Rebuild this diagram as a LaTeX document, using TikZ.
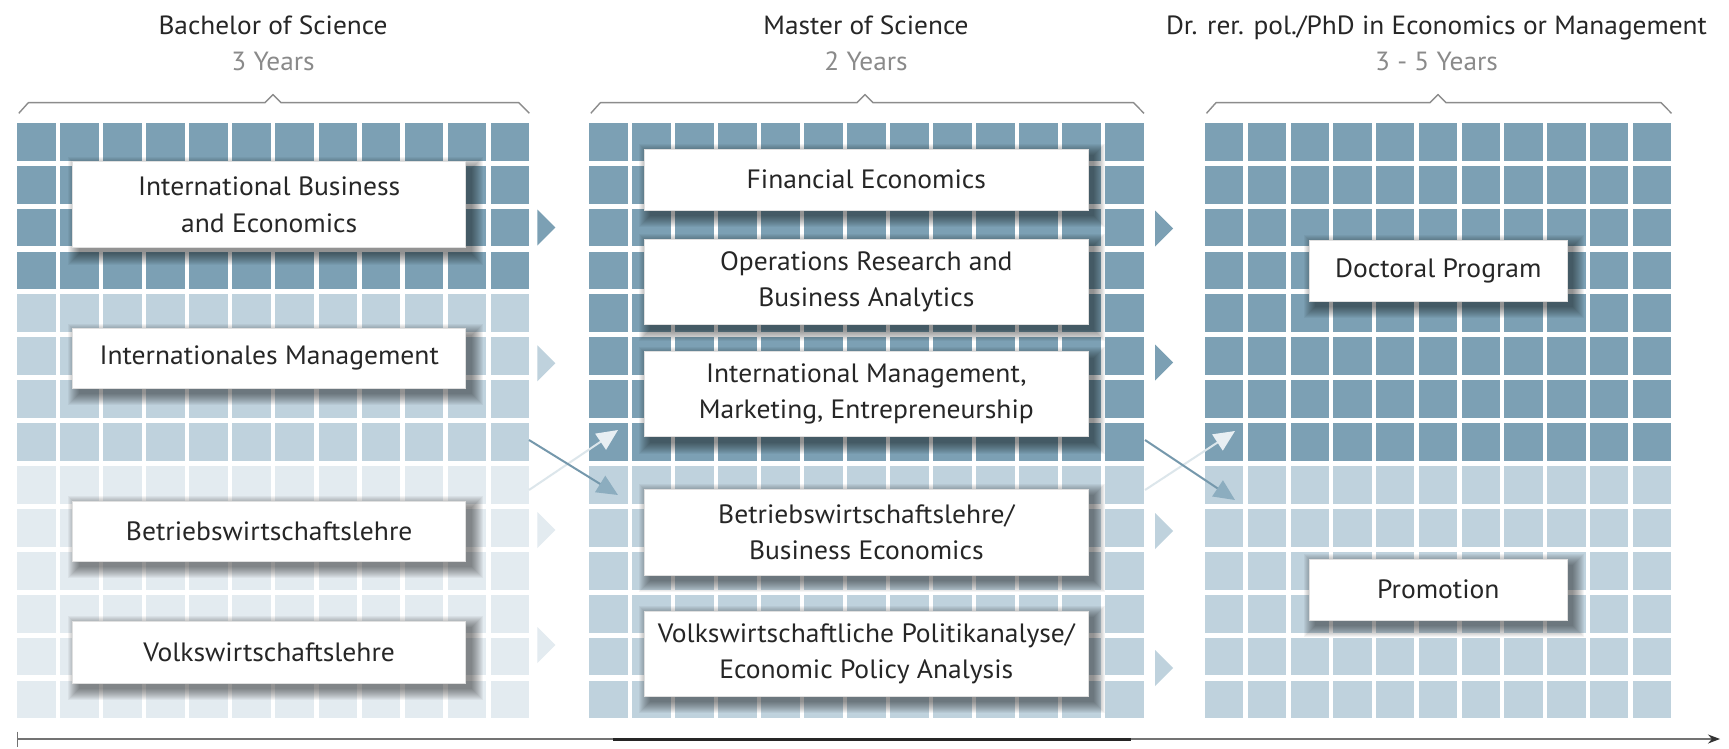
\documentclass[tikz,border=0pt]{standalone}
\usepackage{fontspec}
\setmainfont[FakeStretch=1.04]{PT Sans}
\usetikzlibrary{arrows.meta}
\definecolor{cdark}{HTML}{7CA0B4}
\definecolor{cmed}{HTML}{BFD2DD}
\definecolor{clight}{HTML}{E3EBF0}
\definecolor{ctext}{HTML}{262626}
\definecolor{cyears}{HTML}{8A8A8A}
\definecolor{cbrace}{HTML}{8C8C8C}
\definecolor{carrdark}{HTML}{7598AC}
\definecolor{carrdarkhead}{HTML}{8CADBF}
\definecolor{carrlight}{HTML}{DCE6EB}
\definecolor{carrlighthead}{HTML}{E8EFF3}
\newcommand{\brc}[3]{\draw[bracestyle] ({#1+1.5},113.3) -- ({#1+11},102.7) -- ({#2-8},102.7) -- (#2,94.5) -- ({#2+8},102.7) -- ({#3-10.5},102.7) -- (#3,113.3);}
\newcommand{\tri}[3]{\fill[#3] (#1,{#2-18}) -- ({#1+18},#2) -- (#1,{#2+18}) -- cycle;}
% #1 name, #2 cx, #3 cy, #4 w, #5 h, #6 text
\newcommand{\progbox}[6]{%
  \foreach \s in {0,...,11} {
    \fill[black, opacity=0.042] ({#2-#4/2+6-\s},{#3-#5/2+6-\s}) rectangle ({#2+#4/2+6+\s},{#3+#5/2+6+\s});
  }
  \node[box, minimum width=#4pt, minimum height=#5pt] (#1) at (#2,#3) {#6};
}
\begin{document}
\begin{tikzpicture}[x=1pt,y=-1pt,
  box/.style={draw=black!12, line width=0.6pt, fill=white, inner sep=0pt, align=center, text=ctext,
    font=\fontsize{26.5}{36.5}\selectfont},
  title/.style={inner sep=0pt, anchor=base, text=ctext, font=\fontsize{26.3}{30}\selectfont},
  years/.style={inner sep=0pt, anchor=base, text=cyears, font=\fontsize{26.3}{30}\selectfont},
  bracestyle/.style={draw=cbrace, line width=1.4pt, line join=round},
  darkarrow/.style={draw=carrdark, line width=2pt, -{Triangle[length=21pt,width=19pt,fill=carrdarkhead,color=carrdarkhead]}},
  lightarrow/.style={draw=carrlight, line width=2pt, -{Triangle[length=21pt,width=19pt,fill=carrlighthead,color=carrlighthead]}},
  axis/.style={draw=black!55, line width=1.3pt, -{Stealth[length=12pt,width=9pt,fill=black!80,color=black!80]}}
]
\useasboundingbox (0,0) rectangle (1729,749);
\fill[white] (0,0) rectangle (1729,749);

% ---- grids ----
\foreach \r in {0,...,13} {
  \pgfmathsetmacro{\yy}{122.8+\r*42.9}
  \ifnum\r<4 \def\cc{cdark}\else\ifnum\r<8 \def\cc{cmed}\else\def\cc{clight}\fi\fi
  \foreach \c in {0,...,11} {
    \fill[\cc] ({17.3+\c*43.03},\yy) rectangle ++(38.6,37.8);
  }
}
\foreach \r in {0,...,13} {
  \pgfmathsetmacro{\yy}{122.8+\r*42.9}
  \ifnum\r<8 \def\cc{cdark}\else\def\cc{cmed}\fi
  \foreach \c in {0,...,12} {
    \fill[\cc] ({589.3+\c*43.0},\yy) rectangle ++(38.6,37.8);
  }
  \foreach \c in {0,...,10} {
    \fill[\cc] ({1205+\c*42.76},\yy) rectangle ++(38.4,37.8);
  }
}

% ---- braces ----
\brc{17.3}{273}{529.3}
\brc{589.3}{865}{1144}
\brc{1205}{1438}{1671.5}

% ---- titles ----
\node[title] (t1) at (273,34.3) {Bachelor of Science};
\node[years] (y1) at (273,71) {3 Years};
\node[title] (t2) at (866,34.3) {Master of Science};
\node[years] (y2) at (866,71) {2 Years};
\node[title] (t3) at (1436.5,34.3) {Dr. rer. pol./PhD in Economics or Management};
\node[years] (y3) at (1436.5,71) {3 - 5 Years};

% ---- triangles ----
\tri{537.3}{227.5}{cdark}
\tri{537.3}{363.3}{cmed}
\tri{537.3}{530}{clight}
\tri{537.3}{645}{clight}
\tri{1155}{228.5}{cdark}
\tri{1155}{362.5}{cdark}
\tri{1155}{531}{cmed}
\tri{1155}{668}{cmed}

% ---- cross arrows ----
\coordinate (la1) at (529,440);
\coordinate (la2) at (618,495);
\coordinate (lb1) at (529,490);
\coordinate (lb2) at (618,430);
\coordinate (ra1) at (1145,440);
\coordinate (ra2) at (1235,500);
\coordinate (rb1) at (1145,490);
\coordinate (rb2) at (1235,431);
\draw[lightarrow] (lb1) -- (lb2);
\draw[darkarrow] (la1) -- (la2);
\draw[lightarrow] (rb1) -- (rb2);
\draw[darkarrow] (ra1) -- (ra2);

% ---- boxes ----
\progbox{ibe}{269.2}{204.7}{393}{86}{International Business\\and Economics}
\progbox{im}{269.2}{358.3}{393}{59.5}{Internationales Management}
\progbox{bwl}{269.2}{531}{393}{60}{Betriebswirtschaftslehre}
\progbox{vwl}{269.2}{652.2}{393}{61.5}{Volkswirtschaftslehre}

\progbox{fe}{866.3}{179.5}{444}{61}{Financial Economics}
\progbox{or}{866.3}{281.7}{444}{84.7}{Operations Research and\\Business Analytics}
\progbox{imm}{866.3}{394}{444}{85}{International Management,\\Marketing, Entrepreneurship}
\progbox{bwlm}{866.3}{532}{444}{86}{Betriebswirtschaftslehre/\\Business Economics}
\progbox{vwlm}{866.3}{653.7}{444}{85.5}{Volkswirtschaftliche Politikanalyse/\\Economic Policy Analysis}

\progbox{dp}{1438.3}{270.5}{258}{61}{Doctoral Program}
\progbox{pr}{1438.3}{589.5}{258}{61}{Promotion}

% ---- axis ----
\coordinate (ax0) at (17.2,739);
\coordinate (ax1) at (1720,739);
\coordinate (tk0) at (17.2,731.5);
\coordinate (tk1) at (17.2,747);
\coordinate (th0) at (613,739.5);
\coordinate (th1) at (1131,739.5);
\draw[axis] (ax0) -- (ax1);
\draw[draw=black!55, line width=1.3pt] (tk0) -- (tk1);
\draw[draw=black!85, line width=3pt] (th0) -- (th1);
\end{tikzpicture}
\end{document}
